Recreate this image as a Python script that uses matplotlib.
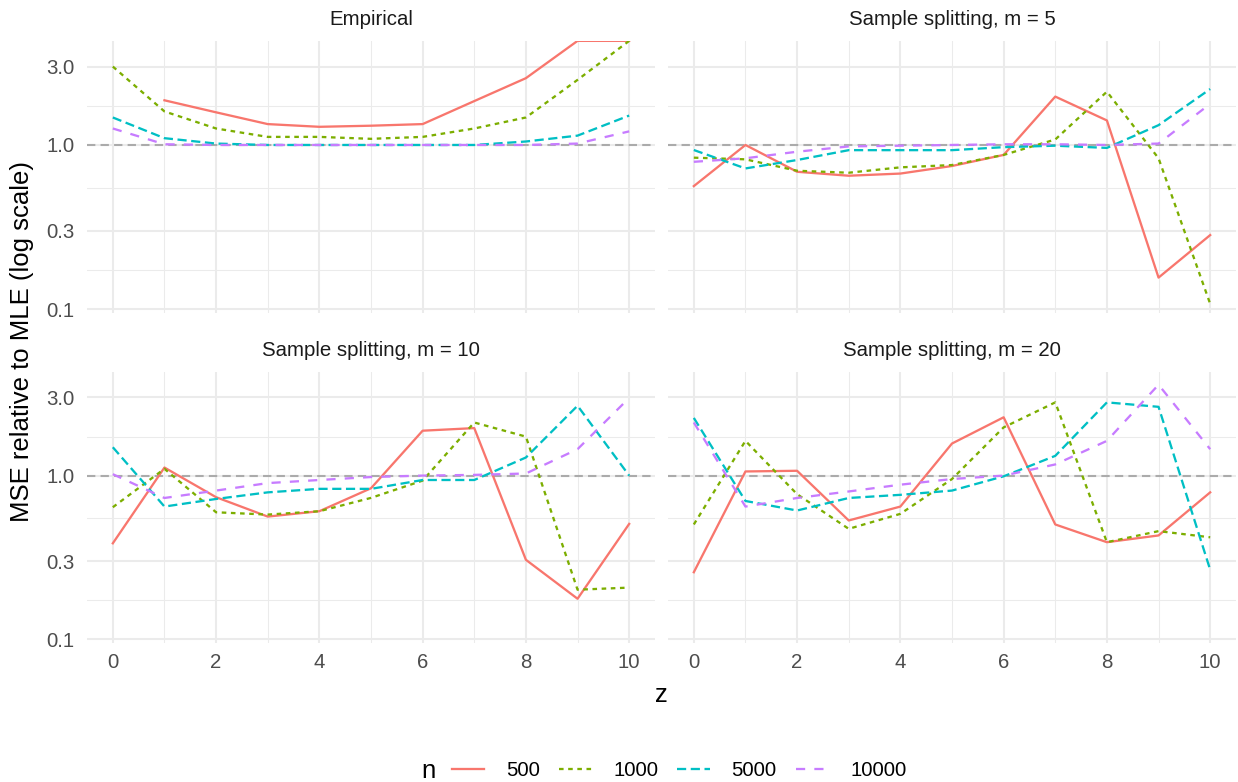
import numpy as np
import matplotlib
matplotlib.use("Agg")
import matplotlib.pyplot as plt
from matplotlib.lines import Line2D
from matplotlib.ticker import FixedLocator, FixedFormatter, NullFormatter

plt.rcParams['font.family'] = ['Liberation Sans', 'DejaVu Sans']

nan = np.nan
z = list(range(11))
n_levels = ['500', '1000', '5000', '10000']
panel_titles = ['Empirical', 'Sample splitting, m = 5',
                'Sample splitting, m = 10', 'Sample splitting, m = 20']

# Empirical
emp_500 = [nan, 1.87, 1.58, 1.34, 1.29, 1.31, 1.34, 1.85, 2.55, 4.3, 4.3]
emp_1000 = [3.0, 1.60, 1.26, 1.12, 1.12, 1.09, 1.12, 1.26, 1.47, 2.49, 4.3]
emp_5000 = [1.47, 1.10, 1.02, 1.0, 1.0, 1.0, 1.0, 1.0, 1.05, 1.14, 1.51]
emp_10000 = [1.26, 1.01, 1.0, 1.0, 1.0, 1.0, 1.0, 1.0, 1.0, 1.02, 1.21]

# Sample splitting, m = 5
m5_500 = [0.562, 1.0, 0.687, 0.65, 0.67, 0.745, 0.87, 1.97, 1.41, 0.156, 0.283]
m5_1000 = [0.837, 0.818, 0.697, 0.678, 0.731, 0.755, 0.87, 1.08, 2.11, 0.83, 0.108]
m5_5000 = [0.932, 0.72, 0.81, 0.93, 0.93, 0.93, 0.97, 0.99, 0.96, 1.32, 2.19]
m5_10000 = [0.79, 0.83, 0.91, 0.98, 0.99, 1.0, 1.01, 1.01, 1.0, 1.02, 1.78]

# Sample splitting, m = 10
m10_500 = [0.386, 1.12, 0.738, 0.562, 0.606, 0.837, 1.88, 1.95, 0.306, 0.177, 0.507]
m10_1000 = [0.641, 1.10, 0.597, 0.578, 0.606, 0.731, 0.932, 2.11, 1.73, 0.201, 0.207]
m10_5000 = [1.49, 0.647, 0.72, 0.79, 0.83, 0.83, 0.94, 0.94, 1.29, 2.67, 1.0]
m10_10000 = [1.02, 0.73, 0.81, 0.90, 0.94, 0.98, 1.0, 1.01, 1.03, 1.45, 2.98]

# Sample splitting, m = 20
m20_500 = [0.257, 1.06, 1.07, 0.532, 0.647, 1.57, 2.27, 0.503, 0.392, 0.431, 0.79]
m20_1000 = [0.503, 1.63, 0.77, 0.473, 0.584, 0.953, 1.97, 2.80, 0.392, 0.458, 0.42]
m20_5000 = [2.25, 0.70, 0.612, 0.73, 0.763, 0.81, 0.99, 1.32, 2.80, 2.63, 0.266]
m20_10000 = [2.11, 0.647, 0.73, 0.80, 0.88, 0.953, 1.0, 1.17, 1.63, 3.59, 1.45]

panel_data = [
    [emp_500, emp_1000, emp_5000, emp_10000],
    [m5_500, m5_1000, m5_5000, m5_10000],
    [m10_500, m10_1000, m10_5000, m10_10000],
    [m20_500, m20_1000, m20_5000, m20_10000],
]

y_breaks = [0.1, 0.3, 1.0, 3.0]
y_labels = ['0.1', '0.3', '1.0', '3.0']
x_breaks = [0, 2, 4, 6, 8, 10]

colors = ['#F8766D', '#7CAE00', '#00BFC4', '#C77CFF']
styles = ['-', (0, (2, 2)), (0, (4, 2)), (0, (4, 4))]
LW = 1.65
YMIN, YMAX = 0.095, 4.31

W, H = 1238, 782
fig = plt.figure(figsize=(W / 100, H / 100), dpi=100)

def rect(x0, y0, x1, y1):
    return [x0 / W, 1 - y1 / H, (x1 - x0) / W, (y1 - y0) / H]

rects = [rect(87, 40.7, 655, 313), rect(668, 40.7, 1236, 313),
         rect(87, 371.7, 655, 643), rect(668, 371.7, 1236, 643)]

# log-midpoint minor breaks
minor_y = [np.sqrt(y_breaks[i] * y_breaks[i + 1]) for i in range(len(y_breaks) - 1)]

for i, (r, title, series) in enumerate(zip(rects, panel_titles, panel_data)):
    ax = fig.add_axes(r)
    ax.set_yscale('log')
    ax.set_ylim(YMIN, YMAX)
    ax.set_xlim(-0.5, 10.5)
    for s in ax.spines.values():
        s.set_visible(False)
    ax.yaxis.set_major_locator(FixedLocator(y_breaks))
    ax.yaxis.set_major_formatter(FixedFormatter(y_labels))
    ax.yaxis.set_minor_locator(FixedLocator(minor_y))
    ax.yaxis.set_minor_formatter(NullFormatter())
    ax.xaxis.set_major_locator(FixedLocator(x_breaks))
    ax.xaxis.set_minor_locator(FixedLocator([1, 3, 5, 7, 9]))
    ax.grid(which='major', color='#EBEBEB', lw=1.45)
    ax.grid(which='minor', color='#EBEBEB', lw=0.75)
    ax.set_axisbelow(True)
    ax.tick_params(which='both', length=0, labelsize=14.7, colors='#4D4D4D')
    ax.tick_params(axis='y', pad=9)
    ax.tick_params(axis='x', pad=7)
    if i in (1, 3):
        ax.tick_params(axis='y', labelleft=False)
    if i in (0, 1):
        ax.tick_params(axis='x', labelbottom=False)
    ax.axhline(1.0, color='#ABABAB', lw=1.5, ls=(0, (4, 2.5)), zorder=1)
    for vals, c, ls in zip(series, colors, styles):
        ax.plot(z, np.clip(np.array(vals, dtype=float), None, YMAX * 0.999),
                color=c, ls=ls, lw=LW, zorder=2, clip_on=True)
    ax.set_title(title, fontsize=14.7, color='#1A1A1A', pad=11.5)

fig.text(661 / W, 1 - 695 / H, 'z', ha='center', va='center', fontsize=18.5)
fig.text(22 / W, 1 - 341 / H, 'MSE relative to MLE (log scale)', rotation=90,
         ha='center', va='center', fontsize=18.5)

handles = [Line2D([0], [0], color=c, ls=ls, lw=LW) for c, ls in zip(colors, styles)]
fig.legend(handles, n_levels, ncol=4, loc='center',
           bbox_to_anchor=(679 / W, 1 - 771 / H), frameon=False,
           fontsize=14.7, handlelength=1.6, handletextpad=1.05,
           columnspacing=0.95, borderaxespad=0, borderpad=0)
fig.text(428 / W, 1 - 771 / H, 'n', ha='center', va='center', fontsize=18.5)

fig.savefig('out.png', dpi=100)
